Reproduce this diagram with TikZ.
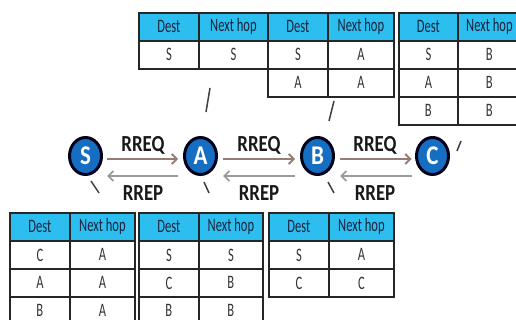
\documentclass[tikz,border=0pt]{standalone}
\usepackage{fontspec}
\setmainfont{Carlito}
\newfontfamily\tabfont[FakeStretch=0.66]{Carlito}
\newfontfamily\lblfont[FakeStretch=0.82]{Carlito}
\newfontfamily\nodefont[FakeStretch=0.85]{Carlito}
\usetikzlibrary{matrix,arrows.meta,calc,shapes.geometric}
\definecolor{hdr}{RGB}{45,190,240}
\definecolor{nodeblue}{RGB}{22,110,195}
\definecolor{reqc}{RGB}{150,125,115}
\definecolor{repc}{RGB}{155,155,155}
\definecolor{hdrtext}{RGB}{25,35,60}
\tikzset{
  rtab/.style={matrix of nodes, anchor=north west, inner sep=0pt,
    column sep=-1.4pt, row sep=-1.4pt,
    nodes={draw=black!85, line width=1.4pt, minimum height=28pt, inner sep=0pt,
      font=\tabfont\fontsize{19}{19}\selectfont, text=black!80, anchor=center},
    row 1/.style={nodes={fill=hdr, text=hdrtext}}},
  cw/.style 2 args={column 1/.style={nodes={minimum width=#1}},
                    column 2/.style={nodes={minimum width=#2}}},
  circ/.style={ellipse, fill=nodeblue, draw=black!90!blue, line width=3pt,
    minimum width=32pt, minimum height=37pt, inner sep=0pt, text=white,
    font=\nodefont\bfseries\fontsize{27}{27}\selectfont},
  lbl/.style={font=\lblfont\bfseries\fontsize{23}{23}\selectfont, text=black!90, inner sep=0pt},
  reqarrow/.style={draw=reqc, line width=1.8pt, -{Straight Barb[length=5pt,width=10pt]}},
  reparrow/.style={draw=repc, line width=1.8pt, -{Straight Barb[length=5pt,width=10pt]}},
  tick/.style={draw=black!75, line width=1.5pt}
}
\begin{document}
\begin{tikzpicture}[x=1pt,y=-1pt]
\useasboundingbox (0,0) rectangle (516,320);
% tables above
\matrix (tA) [rtab, cw={60pt}{69pt}] at (138,12) {Dest & Next hop\\ S & S\\};
\matrix (tB) [rtab, cw={60pt}{66pt}] at (267,12) {Dest & Next hop\\ S & A\\ A & A\\};
\matrix (tC) [rtab, cw={59pt}{63pt}] at (398,12) {Dest & Next hop\\ S & B\\ A & B\\ B & B\\};
% tables below
\matrix (bS) [rtab, cw={60pt}{65pt}] at (9,212) {Dest & Next hop\\ C & A\\ A & A\\ B & A\\};
\matrix (bA) [rtab, cw={60pt}{64pt}] at (138,212) {Dest & Next hop\\ S & S\\ C & B\\ B & B\\};
\matrix (bB) [rtab, cw={60pt}{65pt}] at (268,212) {Dest & Next hop\\ S & A\\ C & C\\};
% nodes
\node[circ] (S) at (85.5,156) {S};
\node[circ] (A) at (200.5,156) {A};
\node[circ] (B) at (317.5,156) {B};
\node[circ] (C) at (432.5,156) {C};
% arrows
\draw[reqarrow] ($(S.center)+(21.5,3)$) -- ($(A.center)+(-22.5,3)$);
\draw[reqarrow] ($(A.center)+(22.5,3)$) -- ($(B.center)+(-22.5,3)$);
\draw[reqarrow] ($(B.center)+(22.5,3)$) -- ($(C.center)+(-21,3)$);
\draw[reparrow] ($(A.center)+(-22.5,20)$) -- ($(S.center)+(21.5,20)$);
\draw[reparrow] ($(B.center)+(-22.5,20)$) -- ($(A.center)+(22.5,20)$);
\draw[reparrow] ($(C.center)+(-21,20)$) -- ($(B.center)+(22.5,20)$);
% labels
\node[lbl] (q1) at ($(S)!0.5!(A)+(0,-11)$) {RREQ};
\node[lbl] (q2) at ($(A)!0.5!(B)+(0,-11)$) {RREQ};
\node[lbl] (q3) at ($(B)!0.5!(C)+(0,-11)$) {RREQ};
\node[lbl] (p1) at ($(S)!0.5!(A)+(0,37)$) {RREP};
\node[lbl] (p2) at ($(A)!0.5!(B)+(0,37)$) {RREP};
\node[lbl] (p3) at ($(B)!0.5!(C)+(0,37)$) {RREP};
% ticks
\draw[tick] (91,181) -- (99,193);
\draw[tick] (204,182) -- (209,193);
\draw[tick] (328,182) -- (334,193);
\draw[tick] (210,88) -- (206,112);
\draw[tick] (334,101) -- (329,121);
\draw[tick] (461,141) -- (457,151);
\end{tikzpicture}
\end{document}
